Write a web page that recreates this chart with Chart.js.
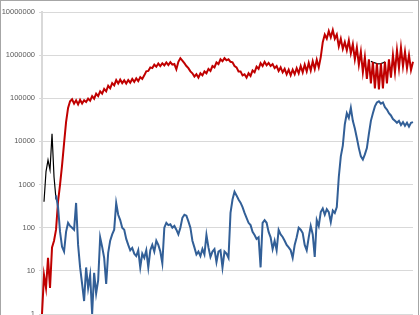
<!DOCTYPE html>
<html>
<head>
<meta charset="utf-8">
<script src="https://cdn.jsdelivr.net/npm/chart.js@4/dist/chart.umd.min.js"></script>
<style>
html,body{margin:0;padding:0;overflow:hidden;background:#fff;width:420px;height:315px;}
#wrap{position:relative;width:420px;height:340px;}
</style>
</head>
<body>
<div id="wrap"><canvas id="c" width="420" height="340"></canvas></div>
<script>
// time index (each step = one sample, 186 samples across the span)
const sampleCount = 186;
const labels = Array.from({length: sampleCount}, (_, i) => i);

// tick labels on the log axis
const tickValues = [1, 10, 100, 1000, 10000, 100000, 1000000, 10000000];

// red series (starts at sample 0)
const redValues = [
  1, 8, 4, 20, 4, 35, 50, 90, 400, 1000,
  2800, 9000, 28000, 60000, 85000, 95000, 75000, 90000, 72000, 92000,
  76000, 90000, 82000, 98000, 88000, 112000, 98000, 128000, 112000, 145000,
  128000, 165000, 145000, 195000, 170000, 225000, 200000, 265000, 220000, 270000,
  225000, 260000, 220000, 265000, 230000, 280000, 240000, 290000, 250000, 310000,
  280000, 340000, 420000, 430000, 520000, 500000, 600000, 540000, 640000, 560000,
  650000, 580000, 680000, 590000, 690000, 600000, 620000, 470000, 700000, 850000,
  750000, 650000, 560000, 500000, 420000, 380000, 320000, 360000, 300000, 380000,
  340000, 420000, 380000, 480000, 430000, 560000, 520000, 680000, 620000, 800000,
  720000, 850000, 760000, 800000, 700000, 680000, 560000, 520000, 420000, 420000,
  340000, 360000, 300000, 380000, 330000, 440000, 400000, 540000, 480000, 650000,
  560000, 700000, 580000, 660000, 560000, 620000, 500000, 560000, 430000, 520000,
  400000, 480000, 360000, 460000, 340000, 460000, 360000, 500000, 380000, 560000,
  400000, 600000, 420000, 660000, 440000, 720000, 480000, 780000, 520000, 900000,
  2000000, 3000000, 2400000, 3600000, 2600000, 3800000, 2400000, 3000000, 1600000, 2400000,
  1400000, 2000000, 1300000, 2200000, 1100000, 1800000, 800000, 1500000, 600000, 1200000,
  400000, 900000, 280000, 800000, 220000, 700000, 170000, 650000, 160000, 650000,
  170000, 700000, 220000, 800000, 300000, 1000000, 400000, 1300000, 500000, 1500000,
  550000, 1200000, 500000, 1000000, 450000, 700000
];

// blue series (starts at sample 7)
const blueStart = 7;
const blueValues = [
  560, 300, 80, 36, 28, 80, 130, 110, 100, 90,
  375, 40, 12, 5, 2, 12, 4, 8, 1, 9,
  3, 6, 60, 36, 20, 5, 26, 50, 70, 90,
  370, 200, 150, 100, 90, 55, 40, 30, 34, 25,
  22, 30, 12, 25, 20, 30, 12, 30, 40, 28,
  50, 40, 28, 15, 100, 130, 115, 120, 100, 110,
  90, 70, 100, 170, 200, 190, 140, 100, 50, 35,
  24, 28, 22, 32, 24, 68, 35, 21, 28, 32,
  16, 28, 30, 12, 28, 25, 20, 220, 450, 680,
  560, 450, 380, 300, 220, 170, 130, 115, 80, 68,
  55, 60, 12, 130, 150, 130, 80, 60, 32, 50,
  30, 89, 70, 61, 50, 40, 35, 30, 20, 40,
  60, 100, 90, 75, 40, 30, 60, 110, 70, 21,
  150, 110, 230, 280, 200, 270, 230, 135, 250, 220,
  300, 1500, 4500, 8000, 25000, 45000, 35000, 60000, 30000, 20000,
  12000, 7000, 4500, 3800, 5000, 7000, 15000, 30000, 45000, 65000,
  80000, 85000, 75000, 80000, 62000, 55000, 45000, 40000, 33000, 30000,
  27000, 30000, 24000, 28000, 23000, 27000, 22000, 27000, 28000
];

// black series: early segment (samples 1..7) and a short late segment
const blackEarlyStart = 1;
const blackEarlyValues = [400, 2000, 3700, 2200, 15000, 1500, 450];
const blackLateStart = 164;
const blackLateValues = [720000, 680000, 660000, 640000, 630000, 640000, 660000, 700000];

function place(start, vals) {
  const arr = new Array(sampleCount).fill(null);
  vals.forEach((v, k) => { if (start + k < sampleCount) arr[start + k] = v; });
  return arr;
}
const blackData = place(blackEarlyStart, blackEarlyValues);
blackLateValues.forEach((v, k) => { blackData[blackLateStart + k] = v; });

const framePlugin = {
  id: 'frame',
  afterDraw(chart) {
    const ctx = chart.ctx;
    ctx.save();
    ctx.strokeStyle = '#a6a6a6';
    ctx.lineWidth = 1;
    ctx.strokeRect(0.5, 0.5, 418, 400);
    ctx.restore();
  }
};

new Chart(document.getElementById('c'), {
  type: 'line',
  data: {
    labels: labels,
    datasets: [
      {label: 'blue', data: place(blueStart, blueValues), borderColor: '#325F97', borderWidth: 2, pointRadius: 0, spanGaps: false, tension: 0},
      {label: 'red', data: place(0, redValues), borderColor: '#C00000', borderWidth: 2, pointRadius: 0, spanGaps: false, tension: 0},
      {label: 'black', data: blackData, borderColor: '#000000', borderWidth: 1.2, pointRadius: 0, spanGaps: false, tension: 0}
    ]
  },
  options: {
    responsive: false,
    animation: false,
    events: [],
    layout: {padding: {top: 12, right: 7, bottom: 26, left: 0}},
    plugins: {legend: {display: false}, tooltip: {enabled: false}},
    scales: {
      x: {type: 'category', display: false, offset: false},
      y: {
        type: 'logarithmic',
        min: 1, max: 10000000,
        afterBuildTicks(scale) { scale.ticks = tickValues.map(v => ({value: v})); },
        afterFit(scale) { scale.width = 42; },
        ticks: {
          callback: (v) => String(v),
          color: '#595959',
          font: {family: 'Liberation Sans', size: 7.5},
          padding: 4
        },
        grid: {color: '#d9d9d9', lineWidth: 1, tickLength: 3, drawTicks: true},
        border: {color: '#d9d9d9', width: 2}
      }
    }
  },
  plugins: [framePlugin]
});
</script>
</body>
</html>
